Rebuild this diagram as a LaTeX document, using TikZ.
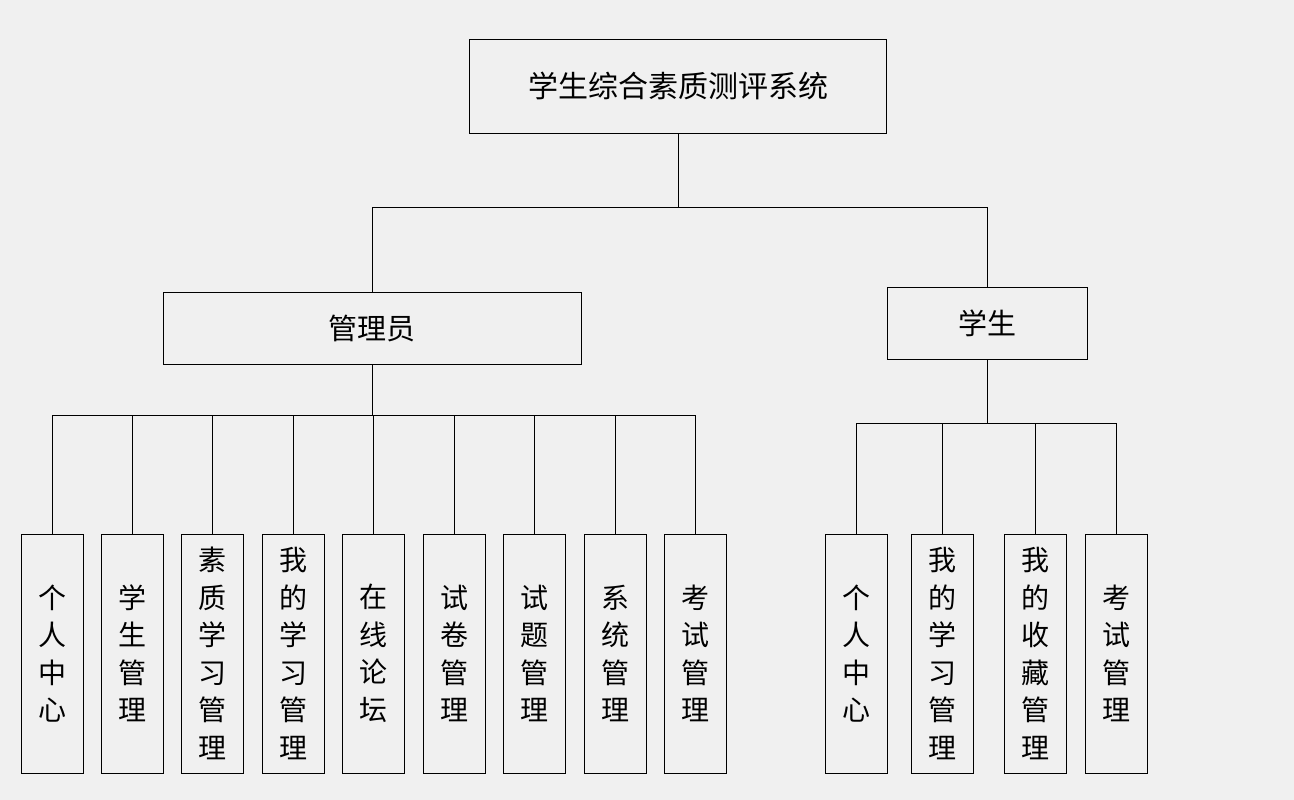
\documentclass[tikz,border=0pt]{standalone}
\usepackage{fontspec}
\setmainfont{Noto Sans CJK SC}
\usetikzlibrary{calc}
\definecolor{bg}{HTML}{F0F0F0}
\tikzstyle{line} = [draw=black, line width=0.8pt]

\begin{document}
\begin{tikzpicture}[
            x=1pt, y=-1pt,
            every node/.style={text centered, inner sep=0pt},
            topbox/.style={rectangle, draw=black, line width=0.8pt, minimum width=417pt, minimum height=94pt, font=\fontsize{30}{34}\selectfont},
            rolebox/.style={rectangle, draw=black, line width=0.8pt, minimum height=72pt, font=\fontsize{29}{33}\selectfont},
            leaf/.style={rectangle, draw=black, line width=0.8pt, minimum width=62pt, minimum height=239pt, align=center, font=\fontsize{28}{37.5}\selectfont}
        ]
            \fill[bg] (0,0) rectangle (1294,800);
            \useasboundingbox (0,0) rectangle (1294,800);

            % Nodes
            \node (sys) [topbox] at (678,86) {学生综合素质测评系统};
            \node (admin) [rolebox, minimum width=418pt] at (372,328) {管理员};
            \node (stu) [rolebox, minimum width=200pt] at (987,323) {学生};

            \foreach \n/\x/\t in {a1/52/个\\人\\中\\心, a2/132/学\\生\\管\\理, a3/212/素\\质\\学\\习\\管\\理,
                a4/293/我\\的\\学\\习\\管\\理, a5/373/在\\线\\论\\坛, a6/454/试\\卷\\管\\理,
                a7/534/试\\题\\管\\理, a8/615/系\\统\\管\\理, a9/695/考\\试\\管\\理}
                \node (\n) [leaf] at (\x,653.5) {\t};
            \foreach \n/\x/\t in {s1/856/个\\人\\中\\心, s2/942/我\\的\\学\\习\\管\\理,
                s3/1035/我\\的\\收\\藏\\管\\理, s4/1116/考\\试\\管\\理}
                \node (\n) [leaf] at (\x,653.5) {\t};

            % Connectors
            \coordinate (bus1) at ($(sys.south)+(0,74)$);
            \draw [line] (sys.south) -- (bus1);
            \draw [line] (admin.north) |- (bus1) -| (stu.north);

            \coordinate (bus2) at ($(admin.south)+(0,51)$);
            \draw [line] (admin.south) -- (bus2);
            \draw [line] (a1.north) |- (a9.north |- bus2) -- (a9.north);
            \foreach \n in {a2,a3,a4,a5,a6,a7,a8}
                \draw [line] (\n.north) -- (\n.north |- bus2);

            \coordinate (bus3) at ($(stu.south)+(0,64)$);
            \draw [line] (stu.south) -- (bus3);
            \draw [line] (s1.north) |- (s4.north |- bus3) -- (s4.north);
            \foreach \n in {s2,s3}
                \draw [line] (\n.north) -- (\n.north |- bus3);
        \end{tikzpicture}
\end{document}
